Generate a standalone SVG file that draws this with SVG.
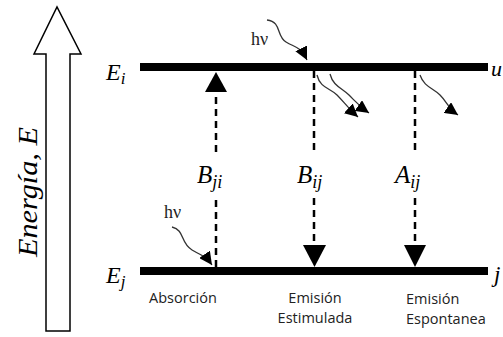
<svg xmlns="http://www.w3.org/2000/svg" width="503" height="337" viewBox="0 0 503 337">
<style>
.lvl{stroke:#000;stroke-width:8}
.dash{stroke:#000;stroke-width:2.5;stroke-dasharray:7 5;fill:none}
.wave{stroke:#333;stroke-width:1.3;fill:none;marker-end:url(#ah)}
.math{font-family:"Liberation Serif",serif;font-style:italic;fill:#000}
.lbl{font-family:"Open Sans","Noto Sans",sans-serif;font-size:14.5px;fill:#222}
.hv{font-family:"Liberation Serif",serif;font-size:18px;fill:#222}
</style>
<defs>
<marker id="ah" markerUnits="userSpaceOnUse" markerWidth="15" markerHeight="13" refX="13" refY="6.5" orient="auto">
<path d="M0,0 L13,6.5 L0,13 Z" fill="#000"/>
</marker>
</defs>
<rect width="503" height="337" fill="#fff"/>
<g id="energy-axis">
<path d="M46,331 L46,54 L34,54 L57,7 L81,54 L70,54 L70,331 Z" fill="#fff" stroke="#000" stroke-width="1.5"/>
<text class="math" font-size="27" transform="translate(37,192) rotate(-90)" text-anchor="middle" textLength="130" lengthAdjust="spacingAndGlyphs">Energía, E</text>
</g>
<g id="level-i">
<line class="lvl" x1="140" y1="67" x2="488" y2="67"/>
<text class="math" font-size="24" x="106" y="80">E<tspan font-size="17" dy="4">i</tspan></text>
<text class="math" font-size="22" x="491" y="76">u</text>
</g>
<g id="level-j">
<line class="lvl" x1="140" y1="271" x2="488" y2="271"/>
<text class="math" font-size="24" x="106" y="283">E<tspan font-size="17" dy="4">j</tspan></text>
<text class="math" font-size="23" x="494" y="282">j</text>
</g>
<g id="connectors">
<line class="dash" x1="216" y1="267" x2="216" y2="198"/>
<line class="dash" x1="216" y1="152" x2="216" y2="92"/>
<path d="M205,92 L227,92 L216,72 Z" fill="#000"/>
<line class="dash" x1="314" y1="71" x2="314" y2="152"/>
<line class="dash" x1="314" y1="198" x2="314" y2="246"/>
<path d="M303,245 L326,245 L314.5,267 Z" fill="#000"/>
<line class="dash" x1="415" y1="71" x2="415" y2="152"/>
<line class="dash" x1="415" y1="198" x2="415" y2="246"/>
<path d="M404,245 L426,245 L415,267 Z" fill="#000"/>
<path class="wave" d="M267,20 C282,22 276,36 286,42 S300,46 307,60"/>
<path class="wave" d="M172,227 C185,230 180,243 192,250 S205,255 212,265"/>
<path class="wave" d="M317,75 C320,88 330,88 337,95 S348,108 358,117"/>
<path class="wave" d="M330,74 C333,86 342,88 349,95 S359,106 369,113"/>
<path class="wave" d="M420,75 C424,87 433,88 440,95 S448,108 458,115"/>
</g>
<g id="coefficients">
<text class="math" font-size="25" x="197" y="183">B<tspan font-size="18" dy="5">ji</tspan></text>
<text class="math" font-size="25" x="297" y="183">B<tspan font-size="18" dy="5">ij</tspan></text>
<text class="math" font-size="25" x="395" y="183">A<tspan font-size="18" dy="5">ij</tspan></text>
</g>
<g id="photons">
<text class="hv" x="251" y="45">hν</text>
<text class="hv" x="164" y="218">hν</text>
</g>
<g id="labels">
<text class="lbl" x="183" y="303" text-anchor="middle">Absorción</text>
<text class="lbl" x="315" y="303" text-anchor="middle">Emisión</text>
<text class="lbl" x="315" y="323" text-anchor="middle">Estimulada</text>
<text class="lbl" x="406" y="304">Emisión</text>
<text class="lbl" x="406" y="324">Espontanea</text>
</g>
</svg>
